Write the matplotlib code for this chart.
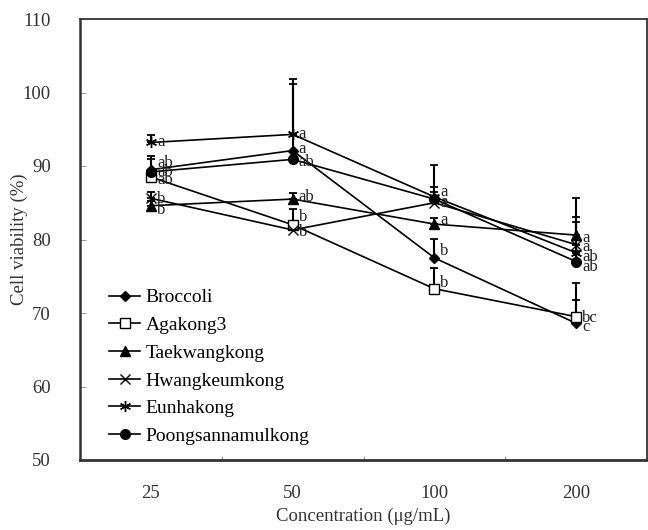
import matplotlib
matplotlib.use("Agg")
import matplotlib.pyplot as plt
import numpy as np

plt.rcParams['font.family'] = ['Liberation Serif', 'DejaVu Serif']

concs = ["25", "50", "100", "200"]

# mean viability (%)
broccoli = [89.5, 92.1, 77.5, 68.6]
agakong3 = [88.5, 82.0, 73.3, 69.5]
taekwang = [84.6, 85.5, 82.1, 80.6]
hwangkeum = [85.6, 81.3, 85.0, 79.3]
eunha = [93.2, 94.3, 85.8, 78.2]
poongsan = [89.2, 90.9, 85.5, 77.0]

# upper error bars
err_broccoli = [1.5, 9.1, 2.6, 3.2]
err_agakong3 = [0.8, 2.2, 2.8, 4.6]
err_taekwang = [0.6, 0.8, 0.8, 5.0]
err_hwangkeum = [0.8, 0.5, 1.5, 3.7]
err_eunha = [1.0, 7.6, 4.3, 4.2]
err_poongsan = [2.2, 1.0, 1.6, 1.5]

# significance letters
let_broccoli = ["ab", "a", "b", "c"]
let_agakong3 = ["ab", "b", "b", "bc"]
let_taekwang = ["b", "ab", "a", "a"]
let_hwangkeum = ["b", "b", "a", "a"]
let_eunha = ["a", "a", "a", "ab"]
let_poongsan = ["ab", "ab", "a", "ab"]

names = ["Broccoli", "Agakong3", "Taekwangkong", "Hwangkeumkong",
         "Eunhakong", "Poongsannamulkong"]
means = [broccoli, agakong3, taekwang, hwangkeum, eunha, poongsan]
errs = [err_broccoli, err_agakong3, err_taekwang, err_hwangkeum,
        err_eunha, err_poongsan]
letters = [let_broccoli, let_agakong3, let_taekwang, let_hwangkeum,
           let_eunha, let_poongsan]

# marker styles
markers = ["D", "s", "^", "x", (6, 2, 0), "o"]
msizes = [5, 6.5, 6.5, 6.5, 8, 7]
faces = ["black", "white", "black", "black", "black", "black"]
# vertical label nudges in pixels
nudges = [[7, 2, 7, -4],
          [-3, 8, 6, -1],
          [-4, 2, 4, -3],
          [-1, -2, 0, -2],
          [0, 0, 5, -4],
          [0, -3, -3, -5]]

fig = plt.figure(figsize=(6.48, 5.30), dpi=100)
ax = fig.add_axes([80/648, 70/530, 567/648, 441/530])

x = np.arange(1, len(concs) + 1)
for i in range(len(names)):
    y = np.array(means[i])
    e = np.array(errs[i])
    ax.errorbar(x, y, yerr=[np.zeros_like(e), e], fmt='none', ecolor='black',
                elinewidth=1.5, capsize=3, capthick=1.3, zorder=2)
    ax.plot(x, y, color='black', lw=1.2, marker=markers[i], ms=msizes[i],
            mfc=faces[i], mec='black', mew=1.0, label=names[i], zorder=3)
    for j in range(len(x)):
        ax.annotate(letters[i][j], (x[j], y[j]), xytext=(6, nudges[i][j]),
                    textcoords='offset pixels', ha='left', va='center',
                    fontsize=12, color='#222222')

ax.set_xlim(0.5, 4.5)
ax.set_ylim(50, 110)
ax.set_xticks(x)
ax.set_xticklabels(concs)
ax.set_xticks([1.5, 2.5, 3.5], minor=True)
ax.set_yticks(np.arange(50, 111, 10))
ax.tick_params(axis='x', which='major', length=0, pad=18, labelsize=13.5,
               labelcolor='#333333')
ax.tick_params(axis='x', which='minor', direction='in', length=3, width=0.6,
               color='#888888')
ax.tick_params(axis='y', direction='in', length=4, width=0.6, color='#888888',
               labelsize=13.5, pad=21, labelcolor='#333333')
for s in ax.spines.values():
    s.set_color('#333333')
    s.set_linewidth(1.3)
ax.spines['bottom'].set_linewidth(2.0)
ax.spines['left'].set_linewidth(1.8)

ax.set_xlabel("Concentration (μg/mL)", fontsize=13.5, labelpad=4,
              color='#333333')
ax.set_ylabel("Cell viability (%)", fontsize=13.5, color='#333333')
ax.yaxis.set_label_coords(-0.092, 0.5)

leg = ax.legend(loc='lower left', bbox_to_anchor=(0.052, 0.034), frameon=False,
                fontsize=14, handlelength=1.55, handletextpad=0.3,
                labelspacing=0.52, borderpad=0, borderaxespad=0)

fig.savefig("out.png", dpi=100)
